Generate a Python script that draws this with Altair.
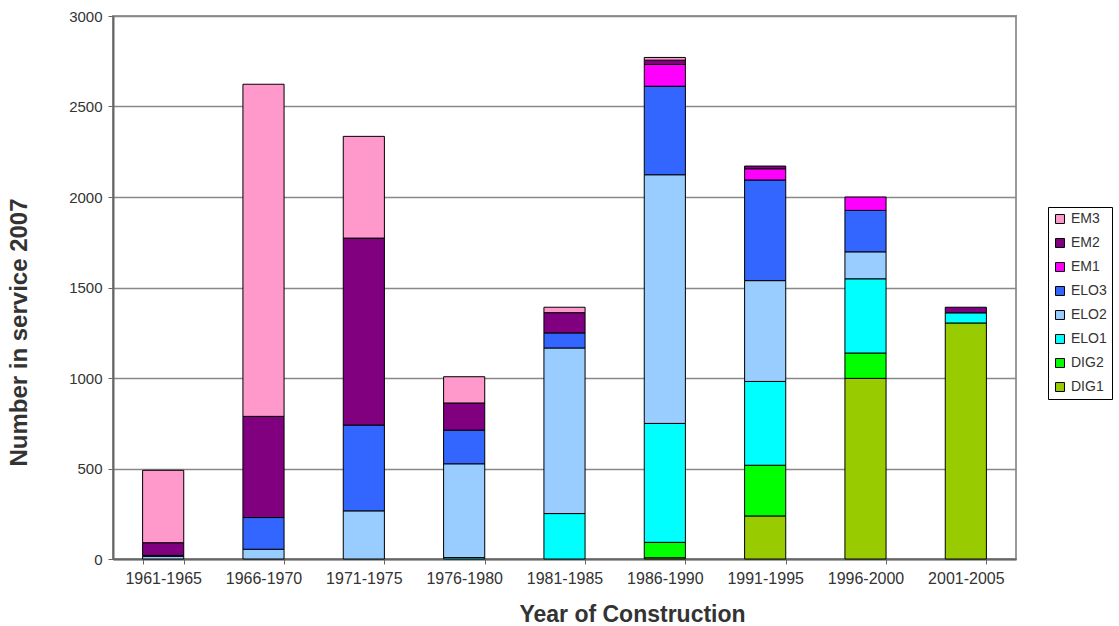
import altair as alt
import pandas as pd

periods = ["1961-1965", "1966-1970", "1971-1975", "1976-1980", "1981-1985",
           "1986-1990", "1991-1995", "1996-2000", "2001-2005"]

# stacked from the bottom up
series = ["DIG1", "DIG2", "ELO1", "ELO2", "ELO3", "EM1", "EM2", "EM3"]
DIG1 = [0, 0, 0, 0, 0, 7, 238, 998, 1304]
DIG2 = [0, 0, 0, 0, 0, 85, 280, 140, 0]
ELO1 = [0, 0, 0, 8, 251, 657, 463, 410, 56]
ELO2 = [15, 54, 266, 518, 915, 1374, 557, 149, 0]
ELO3 = [5, 175, 474, 186, 83, 489, 556, 229, 0]
EM1 = [0, 0, 0, 0, 0, 120, 62, 74, 0]
EM2 = [70, 559, 1033, 150, 112, 24, 15, 0, 31]
EM3 = [400, 1835, 562, 145, 30, 15, 0, 0, 0]

colors = {
    "EM3": "#FF99CC", "EM2": "#800080", "EM1": "#FF00FF", "ELO3": "#3366FF",
    "ELO2": "#99CCFF", "ELO1": "#00FFFF", "DIG2": "#00FF00", "DIG1": "#99CC00",
}

values = {"DIG1": DIG1, "DIG2": DIG2, "ELO1": ELO1, "ELO2": ELO2,
          "ELO3": ELO3, "EM1": EM1, "EM2": EM2, "EM3": EM3}

rows = []
for k, s in enumerate(series):
    for p, v in zip(periods, values[s]):
        if v > 0:
            rows.append({"period": p, "type": s, "count": v, "rank": k})
df = pd.DataFrame(rows)

legend_order = list(reversed(series))
font = "Liberation Sans"

chart = alt.Chart(df).mark_bar(stroke="black", strokeWidth=1).encode(
    x=alt.X("period:N", sort=periods,
            scale=alt.Scale(paddingInner=0.59, paddingOuter=0.295),
            axis=alt.Axis(title="Year of Construction", labelAngle=0,
                          tickBand="extent", labelPadding=6, labelFontSize=16,
                          titleFontSize=23, titlePadding=17, titleX=519)),
    y=alt.Y("count:Q", stack="zero",
            scale=alt.Scale(domain=[0, 3000]),
            axis=alt.Axis(title="Number in service 2007", values=list(range(0, 3001, 500)),
                          format="d", labelFontSize=15, titleFontSize=24,
                          titlePadding=37, labelPadding=6, titleY=316)),
    color=alt.Color("type:N",
                    scale=alt.Scale(domain=legend_order,
                                    range=[colors[s] for s in legend_order]),
                    legend=alt.Legend(title=None, orient="none", legendX=935, legendY=191,
                                      symbolType="square", symbolSize=80,
                                      symbolStrokeColor="black", symbolStrokeWidth=1,
                                      labelFontSize=14, labelFont=font, labelColor="#333",
                                      rowPadding=10, padding=5,
                                      strokeColor="black", fillColor="white")),
    order=alt.Order("rank:Q"),
).properties(
    width=903, height=543,
    padding={"left": 113, "top": 16, "right": 103, "bottom": 67},
    autosize=alt.AutoSizeParams(type="none"),
).configure_view(
    stroke="#999", strokeWidth=2,
).configure_axis(
    labelFont=font, titleFont=font,
    labelColor="#333", titleColor="#333", titleFontWeight="bold",
    domainColor="#666", domainWidth=2, tickColor="#666", tickSize=5,
    gridColor="#888", gridWidth=1.5,
).configure_axisX(grid=False)

chart.save("out.html", embed_options={"renderer": "svg", "actions": False})
